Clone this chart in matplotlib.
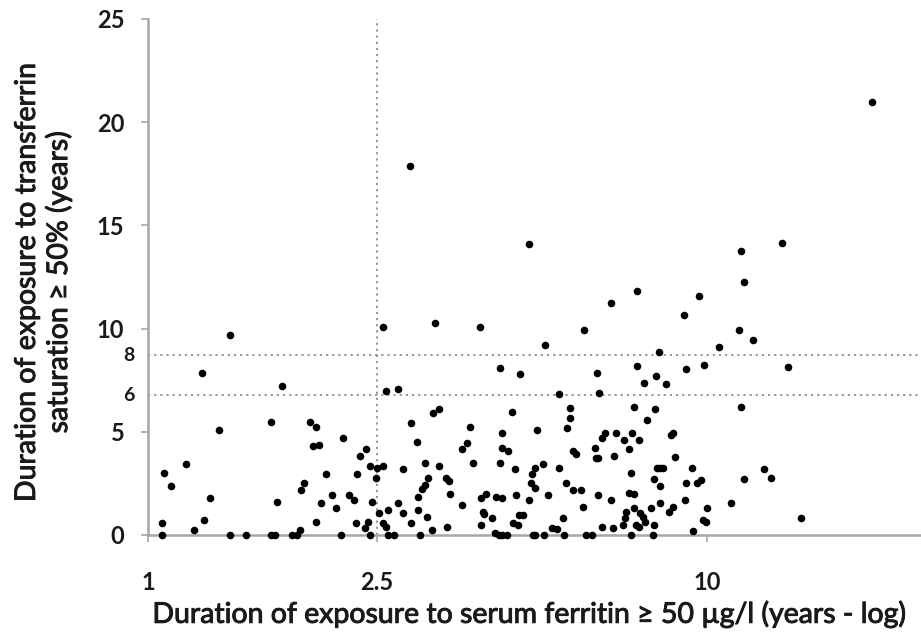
import matplotlib
matplotlib.use("Agg")
import matplotlib.pyplot as plt
import matplotlib.patheffects as pe

plt.rcParams['font.family'] = ['Lato', 'DejaVu Sans']

# duration of exposure to serum ferritin >= 50 (years, log axis)
x_ferritin = [
    1.06, 1.06, 1.07, 1.10, 1.17, 1.21, 1.26, 1.25, 1.29, 1.34,
    1.40, 1.40, 1.50, 1.66, 1.66, 1.69, 1.70, 1.74, 1.81, 1.85,
    1.87, 1.88, 1.90, 1.95, 2.00, 1.97, 2.02, 2.00, 2.04, 2.08,
    2.13, 2.17, 2.21, 2.23, 2.29, 2.34, 2.36, 2.37, 2.39, 2.45,
    2.50, 2.44, 2.47, 2.50, 2.52, 2.56, 2.57, 2.63, 2.59, 2.63,
    2.66, 2.69, 2.69, 2.75, 2.80, 2.86, 2.86, 2.96, 3.04, 3.04,
    3.07, 2.63, 2.67, 2.80, 2.96, 3.03,
    3.26, 3.93, 5.13, 6.03, 6.73, 9.10, 8.22, 9.19, 4.26, 4.63,
    6.36, 7.50, 8.11, 7.73, 8.44, 5.44, 6.41, 3.24, 3.31, 3.77,
    3.64, 3.72, 3.81, 4.47, 4.29, 4.29, 4.41, 4.26, 4.54, 4.96,
    5.62, 5.68, 5.69, 5.77, 5.84, 5.44, 5.08, 4.93, 4.86, 4.85,
    4.93, 4.80, 5.20, 5.60, 5.75, 5.95, 5.99, 5.53, 5.29, 5.39,
    5.54, 4.89, 4.92, 5.10, 4.17, 4.24, 4.30, 4.38, 4.49, 4.59,
    4.61, 4.68, 4.56, 4.20, 4.29, 4.12, 3.98, 3.99, 3.95, 3.94,
    4.03, 3.64, 3.42, 3.47, 3.41, 3.45, 3.31, 3.13, 3.17, 3.13,
    3.09, 3.15, 3.22, 6.31, 6.34, 6.39, 6.50, 6.58, 6.87, 6.82,
    7.11, 7.25, 7.34, 7.55, 7.40, 7.82, 8.08, 7.31, 6.37, 6.73,
    7.25, 7.40, 7.40, 7.16, 7.12, 7.07, 7.60, 7.68, 7.74, 7.45,
    7.55, 7.30, 6.49, 6.78, 6.07, 6.23, 7.93, 8.04, 7.99, 8.04,
    8.25, 8.15, 8.25, 8.33, 8.25, 8.55, 8.70, 9.12, 9.19, 9.39,
    9.59, 8.76, 8.63, 8.69, 9.43,
    11.42, 12.10, 10.52, 9.89, 13.94, 11.50, 9.76, 10.00, 9.83, 9.96,
    11.04, 11.66, 12.66, 13.00, 14.73,
    2.94, 4.80, 7.49, 19.71, 13.60, 11.52, 11.66, 9.69,
]

# duration of exposure to transferrin saturation >= 50% (years)
y_transferrin = [
    0.57, 0.00, 3.02, 2.37, 3.43, 0.24, 0.73, 7.86, 1.79, 5.09,
    9.69, 0.00, 0.00, 5.49, 0.00, 0.00, 1.61, 7.22, 0.00, 0.00,
    0.24, 2.18, 2.50, 5.49, 5.25, 4.31, 4.38, 0.65, 1.53, 2.94,
    1.94, 1.29, 0.00, 4.69, 1.95, 1.70, 0.57, 2.94, 3.83, 4.15,
    3.34, 0.34, 0.65, 0.00, 1.61, 2.78, 3.26, 3.34, 1.05, 0.60,
    0.40, 1.21, 0.00, 0.00, 1.53, 1.05, 3.18, 0.57, 1.86, 1.21,
    0.00, 10.09, 6.98, 7.06, 5.41, 4.52,
    10.26, 10.09, 9.21, 9.93, 11.25, 10.66, 8.88, 8.03, 8.11, 7.79,
    7.86, 8.19, 7.70, 7.38, 7.30, 6.82, 6.90, 5.90, 6.09, 5.25,
    4.15, 4.44, 3.50, 5.97, 4.93, 4.23, 4.07, 3.50, 3.18, 5.09,
    5.17, 5.65, 6.14, 4.08, 3.92, 3.26, 3.43, 3.26, 2.94, 2.53,
    2.26, 1.70, 1.95, 2.53, 2.18, 2.18, 1.37, 0.81, 0.32, 0.27,
    0.00, 0.00, 0.00, 0.00, 0.10, 0.00, 0.00, 0.00, 0.57, 0.48,
    0.97, 0.97, 1.95, 1.86, 1.78, 0.81, 1.13, 1.00, 0.48, 1.78,
    1.97, 1.45, 0.40, 1.97, 2.78, 2.62, 3.34, 3.50, 2.78, 2.42,
    2.21, 0.89, 0.24, 4.20, 3.71, 3.71, 4.69, 4.93, 4.93, 3.83,
    4.60, 4.15, 4.93, 4.60, 6.22, 5.57, 6.09, 3.02, 1.95, 1.70,
    2.05, 1.97, 1.29, 1.13, 0.81, 0.48, 1.05, 0.86, 0.65, 0.48,
    0.40, 0.00, 0.40, 0.32, 0.00, 0.00, 1.29, 0.48, 0.00, 2.70,
    2.37, 3.26, 3.26, 3.26, 1.56, 1.13, 1.37, 1.70, 2.53, 3.26,
    2.53, 3.76, 4.84, 4.96, 0.19,
    9.93, 9.45, 9.12, 8.24, 8.15, 6.22, 2.66, 1.29, 0.73, 0.65,
    1.53, 2.70, 3.18, 2.78, 0.81,
    17.90, 14.08, 11.82, 20.96, 14.17, 13.76, 12.27, 11.58,
]

x_ticks = [1, 2.57, 10]
x_tick_labels = ['1', '2.5', '10']
y_ticks = [0, 5, 10, 15, 20, 25]
# dotted reference lines, labelled as in the figure
ref_x = 2.57
ref_y = [6.78, 8.72]
ref_y_labels = ['6', '8']

fig = plt.figure(figsize=(9.21, 6.35), dpi=100)
ax = fig.add_axes([148 / 921, 100 / 635, 773 / 921, 516 / 635])

axis_grey = '#a6a6a6'
ax.set_xscale('log')
ax.set_xlim(1, 10 ** (773 / 559))
ax.set_ylim(0, 25)

ax.axvline(ref_x, color='#8c8c8c', lw=1.3, ls=(0, (1.2, 2.2)), zorder=1)
for yy in ref_y:
    ax.axhline(yy, color='#8c8c8c', lw=1.3, ls=(0, (1.2, 2.2)), zorder=1)

ax.scatter(x_ferritin, y_transferrin, s=30, color='black', zorder=3,
           clip_on=False, linewidths=0)

for side in ['top', 'right']:
    ax.spines[side].set_visible(False)
for side in ['left', 'bottom']:
    ax.spines[side].set_color(axis_grey)
    ax.spines[side].set_linewidth(1.8)

ax.minorticks_off()
ax.set_xticks(x_ticks)
ax.set_xticklabels(x_tick_labels)
ax.set_yticks(y_ticks)
ax.set_yticklabels([str(v) for v in y_ticks])
ax.tick_params(axis='both', colors=axis_grey, width=1.2, length=5,
               labelcolor='#1a1a1a', labelsize=17)
ax.tick_params(axis='y', pad=12)
ax.tick_params(axis='x', pad=21)
for lab in ax.get_xticklabels() + ax.get_yticklabels():
    lab.set_fontweight('bold')

for yy, lab in zip(ref_y, ref_y_labels):
    ax.text(-0.018, yy, lab, transform=ax.get_yaxis_transform(),
            ha='right', va='center', fontsize=14, fontweight='bold',
            color='#1a1a1a')

# slightly heavier strokes for the axis titles
heavier = [pe.withStroke(linewidth=0.7, foreground='#1a1a1a')]
fig.text(530 / 921, 1 - 614 / 635,
         'Duration of exposure to serum ferritin ≥ 50 µg/l (years - log)',
         ha='center', va='center', fontsize=20.5, color='#1a1a1a',
         path_effects=heavier)
fig.text(43 / 921, 1 - 282 / 635,
         'Duration of exposure to transferrin\nsaturation ≥ 50% (years)',
         ha='center', va='center', rotation=90, fontsize=20.5,
         color='#1a1a1a', linespacing=1.2, multialignment='center',
         path_effects=heavier)

fig.savefig('out.png', dpi=100)
